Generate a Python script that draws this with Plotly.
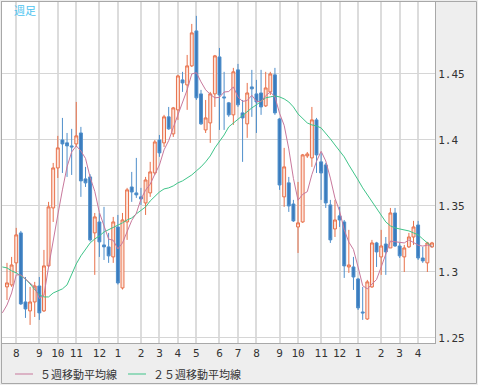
import pandas as pd
import plotly.graph_objects as go

# ---------------- data (EUR/USD weekly) ----------------
weeks = pd.date_range("2010-07-19", periods=93, freq="W-MON")
ma_weeks = pd.date_range("2010-07-12", periods=94, freq="W-MON")

opens = [1.2887, 1.2902, 1.3069, 1.3296, 1.2773, 1.2705, 1.2773, 1.2894, 1.2705, 1.3046,
         1.3485, 1.3788, 1.4000, 1.3978, 1.3955, 1.3970, 1.4053, 1.3705, 1.3720, 1.3296,
         1.3379, 1.3205, 1.3190, 1.3114, 1.3341, 1.2879, 1.3379, 1.3644, 1.3599, 1.3569,
         1.3523, 1.3599, 1.3750, 1.4000, 1.3978, 1.4175, 1.4046, 1.4228, 1.4455, 1.4417,
         1.4561, 1.4826, 1.4349, 1.4076, 1.4129, 1.4349, 1.4629, 1.4326, 1.4281, 1.4190,
         1.4531, 1.4205, 1.4122, 1.4402, 1.4349, 1.4356, 1.4258, 1.4364, 1.4493, 1.4159,
         1.3569, 1.3675, 1.3515, 1.3341, 1.3379, 1.3879, 1.3864, 1.4152, 1.3834, 1.3811,
         1.3508, 1.3326, 1.3425, 1.3379, 1.3038, 1.3038, 1.2947, 1.2697, 1.2644, 1.2887,
         1.3220, 1.3114, 1.3212, 1.3182, 1.3447, 1.3197, 1.3114, 1.3190, 1.3265, 1.3356,
         1.3106, 1.3069, 1.3190]

highs = [1.3069, 1.3114, 1.3334, 1.3311, 1.2962, 1.2887, 1.2925, 1.2962, 1.3167, 1.3531,
         1.3826, 1.4031, 1.4167, 1.4053, 1.4084, 1.4288, 1.4099, 1.3796, 1.3740, 1.3447,
         1.3447, 1.3493, 1.3296, 1.3417, 1.3432, 1.3447, 1.3637, 1.3758, 1.3864, 1.3637,
         1.3720, 1.3834, 1.4000, 1.4038, 1.4190, 1.4250, 1.4250, 1.4493, 1.4516, 1.4644,
         1.4879, 1.4940, 1.4379, 1.4303, 1.4364, 1.4644, 1.4697, 1.4516, 1.4288, 1.4546,
         1.4576, 1.4303, 1.4432, 1.4531, 1.4455, 1.4531, 1.4516, 1.4516, 1.4546, 1.4167,
         1.3940, 1.3720, 1.3546, 1.3682, 1.3894, 1.3909, 1.4250, 1.4167, 1.3902, 1.3826,
         1.3546, 1.3546, 1.3493, 1.3394, 1.3319, 1.3114, 1.2955, 1.2887, 1.2940, 1.3243,
         1.3228, 1.3319, 1.3265, 1.3485, 1.3485, 1.3220, 1.3205, 1.3296, 1.3387, 1.3387,
         1.3190, 1.3228, 1.3228]

lows = [1.2788, 1.2887, 1.2993, 1.2750, 1.2652, 1.2599, 1.2659, 1.2637, 1.2697, 1.3038,
        1.3379, 1.3712, 1.3750, 1.3720, 1.3735, 1.3947, 1.3569, 1.3644, 1.3230, 1.2978,
        1.3114, 1.3091, 1.3069, 1.3069, 1.2905, 1.2867, 1.3243, 1.3531, 1.3561, 1.3508,
        1.3432, 1.3569, 1.3735, 1.3872, 1.3947, 1.4076, 1.4023, 1.4152, 1.4364, 1.4228,
        1.4553, 1.4303, 1.4114, 1.4053, 1.3978, 1.4250, 1.4076, 1.4076, 1.4175, 1.4114,
        1.4250, 1.3834, 1.4016, 1.4175, 1.4053, 1.4190, 1.4250, 1.4341, 1.4190, 1.3622,
        1.3493, 1.3455, 1.3379, 1.3144, 1.3372, 1.3864, 1.3796, 1.3750, 1.3546, 1.3485,
        1.3220, 1.3265, 1.3341, 1.2955, 1.2993, 1.2864, 1.2712, 1.2637, 1.2637, 1.2879,
        1.3038, 1.2978, 1.2978, 1.3182, 1.3190, 1.3106, 1.3000, 1.3182, 1.3205, 1.3091,
        1.3069, 1.3000, 1.3182]

closes = [1.2917, 1.3053, 1.3281, 1.2758, 1.2720, 1.2773, 1.2894, 1.2690, 1.3046, 1.3493,
          1.3788, 1.3940, 1.3970, 1.3955, 1.3947, 1.4031, 1.3690, 1.3675, 1.3243, 1.3417,
          1.3228, 1.3190, 1.3122, 1.3379, 1.2917, 1.3394, 1.3622, 1.3606, 1.3584, 1.3553,
          1.3697, 1.3758, 1.3985, 1.3902, 1.4175, 1.4084, 1.4243, 1.4485, 1.4432, 1.4561,
          1.4811, 1.4319, 1.4122, 1.4167, 1.4349, 1.4637, 1.4341, 1.4319, 1.4190, 1.4516,
          1.4266, 1.4167, 1.4356, 1.4387, 1.4288, 1.4250, 1.4394, 1.4500, 1.4205, 1.3659,
          1.3796, 1.3500, 1.3387, 1.3372, 1.3887, 1.3894, 1.4152, 1.3887, 1.3750, 1.3523,
          1.3243, 1.3394, 1.3394, 1.3046, 1.3053, 1.2962, 1.2728, 1.2690, 1.2925, 1.3220,
          1.3152, 1.3197, 1.3152, 1.3447, 1.3197, 1.3122, 1.3182, 1.3265, 1.3341, 1.3106,
          1.3084, 1.3220, 1.3220]

ma5 = [1.2690, 1.2750, 1.2841, 1.2978, 1.2978, 1.2946, 1.2917, 1.2885, 1.2800, 1.2825,
       1.3038, 1.3220, 1.3432, 1.3622, 1.3796, 1.3909, 1.3955, 1.3917, 1.3860, 1.3717,
       1.3611, 1.3451, 1.3351, 1.3249, 1.3240, 1.3175, 1.3220, 1.3300, 1.3390, 1.3445,
       1.3552, 1.3620, 1.3665, 1.3740, 1.3810, 1.3925, 1.3995, 1.4095, 1.4190, 1.4295,
       1.4380, 1.4500, 1.4510, 1.4440, 1.4380, 1.4345, 1.4319, 1.4323, 1.4363, 1.4367,
       1.4401, 1.4326, 1.4292, 1.4299, 1.4338, 1.4293, 1.4290, 1.4335, 1.4364, 1.4327,
       1.4202, 1.4111, 1.3932, 1.3709, 1.3543, 1.3588, 1.3608, 1.3738, 1.3838, 1.3914,
       1.3841, 1.3711, 1.3559, 1.3461, 1.3320, 1.3226, 1.3170, 1.3037, 1.2896, 1.2872,
       1.2905, 1.2943, 1.3037, 1.3129, 1.3234, 1.3229, 1.3223, 1.3220, 1.3243, 1.3221,
       1.3203, 1.3196, 1.3203, 1.3194]

ma25 = [1.3038, 1.3031, 1.3008, 1.2993, 1.2970, 1.2947, 1.2909, 1.2864, 1.2826, 1.2811,
        1.2811, 1.2841, 1.2856, 1.2872, 1.2902, 1.2985, 1.3061, 1.3122, 1.3167, 1.3220,
        1.3250, 1.3273, 1.3303, 1.3319, 1.3334, 1.3356, 1.3372, 1.3394, 1.3409, 1.3440,
        1.3470, 1.3493, 1.3538, 1.3576, 1.3606, 1.3629, 1.3637, 1.3652, 1.3675, 1.3690,
        1.3712, 1.3735, 1.3766, 1.3796, 1.3834, 1.3879, 1.3940, 1.3985, 1.4038, 1.4099,
        1.4129, 1.4159, 1.4190, 1.4220, 1.4243, 1.4266, 1.4296, 1.4319, 1.4326, 1.4334,
        1.4326, 1.4311, 1.4288, 1.4250, 1.4197, 1.4159, 1.4129, 1.4114, 1.4106, 1.4091,
        1.4053, 1.4008, 1.3962, 1.3917, 1.3872, 1.3811, 1.3758, 1.3697, 1.3637, 1.3584,
        1.3531, 1.3478, 1.3425, 1.3379, 1.3349, 1.3334, 1.3326, 1.3319, 1.3311, 1.3296,
        1.3281, 1.3250, 1.3220, 1.3190]

month_ticks = ["2010-08-02", "2010-09-06", "2010-10-04", "2010-11-01", "2010-12-06",
               "2011-01-03", "2011-02-07", "2011-03-07", "2011-04-04", "2011-05-02",
               "2011-06-06", "2011-07-04", "2011-08-01", "2011-09-05", "2011-10-03",
               "2011-11-07", "2011-12-05", "2012-01-02", "2012-02-06", "2012-03-05",
               "2012-04-02"]
month_labels = ["8", "9", "10", "11", "12", "1", "2", "3", "4", "5", "6", "7",
                "8", "9", "10", "11", "12", "1", "2", "3", "4"]

price_ticks = [1.25, 1.3, 1.35, 1.4, 1.45]
price_labels = ["1.25", "1.3", "1.35", "1.4", "1.45"]

legend_names = ["５週移動平均線", "２５週移動平均線"]
period_label = "週足"

# ---------------- styling ----------------
W, H = 478, 385
ML, MR, MT, MB = 2, 43, 2, 42
PW, PH = W - ML - MR, H - MT - MB

def px(x):
    return (x - ML) / PW

def py(y):
    return (H - MB - y) / PH

C_UP_LINE = "#e8704a"
C_UP_FILL = "#fde4da"
C_DN_LINE = "#4f8fcb"
C_DN_FILL = "#3a7bbd"
C_MA5 = "#c8789c"
C_MA25 = "#3fc489"
GRID = "#d6d6d6"
FRAME = "#a8a8a8"
BG = "#eeeeee"

fig = go.Figure()
fig.add_trace(go.Candlestick(
    x=weeks, open=opens, high=highs, low=lows, close=closes,
    increasing=dict(line=dict(color=C_UP_LINE, width=1), fillcolor=C_UP_FILL),
    decreasing=dict(line=dict(color=C_DN_LINE, width=1), fillcolor=C_DN_FILL),
    whiskerwidth=0, hoverinfo="skip", name="",
))
fig.add_trace(go.Scatter(x=ma_weeks, y=ma25, mode="lines",
                         line=dict(color=C_MA25, width=1), name=legend_names[1],
                         hoverinfo="skip"))
fig.add_trace(go.Scatter(x=ma_weeks, y=ma5, mode="lines",
                         line=dict(color=C_MA5, width=1), name=legend_names[0],
                         hoverinfo="skip"))

x_start = weeks[0] - pd.Timedelta(days=7.56)
x_end = weeks[-1] + pd.Timedelta(days=4.55)

fig.update_layout(
    width=W, height=H,
    margin=dict(l=ML, r=MR, t=MT, b=MB, pad=0),
    paper_bgcolor=BG, plot_bgcolor="white",
    showlegend=False,
    boxgap=0.3, boxgroupgap=0.1,
    xaxis=dict(
        type="date", range=[x_start, x_end],
        tickvals=month_ticks, ticktext=month_labels,
        showgrid=True, gridcolor="#dcdcdc", gridwidth=2,
        showline=True, mirror=True, linecolor=FRAME, linewidth=1,
        ticks="", zeroline=False,
        tickfont=dict(family="DejaVu Sans Mono", size=11, color="#333333"),
        rangeslider=dict(visible=False), fixedrange=True,
    ),
    yaxis=dict(
        side="right", range=[1.2462, 1.5045],
        tickvals=price_ticks, ticktext=price_labels,
        showgrid=True, gridcolor=GRID, gridwidth=1,
        showline=True, mirror=True, linecolor=FRAME, linewidth=1,
        ticks="", zeroline=False,
        tickfont=dict(family="DejaVu Sans Mono", size=11, color="#333333"),
        fixedrange=True,
    ),
)

shapes = []
# outer frame
shapes.append(dict(type="rect", xref="paper", yref="paper",
                   x0=px(1.5), x1=px(476.5), y0=py(383.5), y1=py(1.5),
                   line=dict(color=FRAME, width=1), fillcolor="rgba(0,0,0,0)", layer="above"))
# legend samples
legend_y = 374
shapes.append(dict(type="line", xref="paper", yref="paper",
                   x0=px(15), x1=px(33), y0=py(legend_y), y1=py(legend_y),
                   line=dict(color=C_MA5, width=1)))
shapes.append(dict(type="line", xref="paper", yref="paper",
                   x0=px(128), x1=px(146), y0=py(legend_y), y1=py(legend_y),
                   line=dict(color=C_MA25, width=1)))

annotations = [
    dict(text=legend_names[0], xref="paper", yref="paper", x=px(38), y=py(legend_y),
         xanchor="left", yanchor="middle", showarrow=False,
         font=dict(family="Noto Sans CJK JP", size=11, color="#333333")),
    dict(text=legend_names[1], xref="paper", yref="paper", x=px(151), y=py(legend_y),
         xanchor="left", yanchor="middle", showarrow=False,
         font=dict(family="Noto Sans CJK JP", size=11, color="#333333")),
    dict(text=period_label, xref="paper", yref="paper", x=px(12), y=py(10),
         xanchor="left", yanchor="middle", showarrow=False,
         font=dict(family="Noto Sans CJK JP", size=11, color="#4cc3f0")),
]
fig.update_layout(shapes=shapes, annotations=annotations)

fig.write_html("out.html", config={"displayModeBar": False},
               post_script="document.body.style.margin='0';document.body.style.padding='0';")
